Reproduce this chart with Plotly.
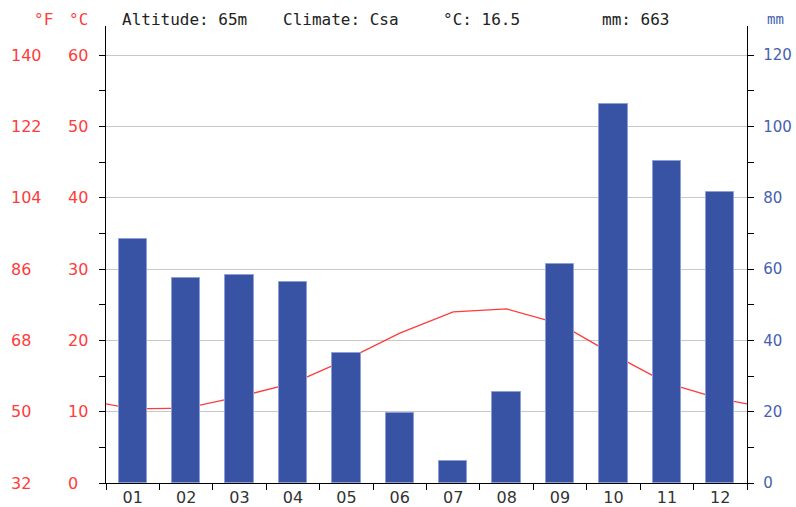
import plotly.graph_objects as go

months = ["01", "02", "03", "04", "05", "06", "07", "08", "09", "10", "11", "12"]
month_pos = list(range(1, 13))
precip_mm = [68.3, 57.4, 58.2, 56.4, 36.5, 19.5, 6.3, 25.4, 61.4, 106.3, 90.3, 81.6]
temp_c = [10.4, 10.5, 12.1, 14.0, 17.3, 21.0, 24.0, 24.4, 22.3, 18.0, 14.0, 11.8]
c_ticks = [0, 10, 20, 30, 40, 50, 60]
f_ticks = [32, 50, 68, 86, 104, 122, 140]
mm_ticks = [0, 20, 40, 60, 80, 100, 120]
header = [("Altitude: 65m", 120), ("Climate: Csa", 281), ("°C: 16.5", 441), ("mm: 663", 600)]

RED = "#ff3b3b"
BLUE = "#4561b0"
BAR = "#3953a4"

W, H = 796, 507
L, R, T, B = 106, 49, 26, 24
pw = W - L - R
ph = H - T - B

edge_val = (temp_c[0] + temp_c[-1]) / 2
line_x = [0.5] + month_pos + [12.5]
line_y = [edge_val] + temp_c + [edge_val]

fig = go.Figure()
fig.add_trace(go.Bar(
    x=month_pos, y=precip_mm, yaxis="y2", width=0.53,
    marker=dict(color=BAR, line=dict(color="#8c9fd6", width=1)),
    hoverinfo="skip",
))
fig.add_trace(go.Scatter(
    x=line_x, y=line_y, mode="lines", yaxis="y",
    line=dict(color=RED, width=1.3), hoverinfo="skip",
))

annotations = []
for c, f in zip(c_ticks, f_ticks):
    annotations.append(dict(x=(9 - L) / pw, xref="paper", y=c, yref="y", text=str(f),
                            showarrow=False, xanchor="left", yanchor="middle",
                            font=dict(family="DejaVu Sans", size=16, color=RED)))
    annotations.append(dict(x=(66 - L) / pw, xref="paper", y=c, yref="y", text=str(c),
                            showarrow=False, xanchor="left", yanchor="middle",
                            font=dict(family="DejaVu Sans", size=16, color=RED)))
ytop = 1 + (T - 19) / ph
annotations.append(dict(x=(43 - L) / pw, xref="paper", y=ytop, yref="paper", text="°F",
                        showarrow=False, xanchor="center", yanchor="middle",
                        font=dict(family="DejaVu Sans Mono", size=16, color=RED)))
annotations.append(dict(x=(78 - L) / pw, xref="paper", y=ytop, yref="paper", text="°C",
                        showarrow=False, xanchor="center", yanchor="middle",
                        font=dict(family="DejaVu Sans Mono", size=16, color=RED)))
annotations.append(dict(x=(775 - L) / pw, xref="paper", y=ytop, yref="paper", text="mm",
                        showarrow=False, xanchor="center", yanchor="middle",
                        font=dict(family="DejaVu Sans Mono", size=14, color=BLUE)))
for txt, xp in header:
    annotations.append(dict(x=(xp - L) / pw, xref="paper", y=ytop, yref="paper", text=txt,
                            showarrow=False, xanchor="left", yanchor="middle",
                            font=dict(family="DejaVu Sans Mono", size=16, color="#222222")))

fig.update_layout(
    width=W, height=H,
    margin=dict(l=L, r=R, t=T, b=B, pad=0, autoexpand=False),
    paper_bgcolor="white", plot_bgcolor="white",
    showlegend=False, bargap=0,
    annotations=annotations,
    xaxis=dict(
        range=[0.5, 12.5], tickvals=month_pos, ticktext=months, ticks="", automargin=False,
        showgrid=False, zeroline=False, showline=True, linecolor="black", linewidth=1.3,
        tickfont=dict(family="DejaVu Sans", size=16, color="#333333"),
        minor=dict(tick0=0.5, dtick=1, ticks="outside", ticklen=6, tickcolor="black", showgrid=False),
        fixedrange=True,
    ),
    yaxis=dict(
        range=[0, 64.07], tickvals=c_ticks, showticklabels=False, automargin=False,
        ticks="outside", ticklen=6, tickcolor="black",
        showgrid=True, gridcolor="#c8c8c8", gridwidth=1,
        zeroline=False, showline=True, linecolor="black", linewidth=1.3,
        minor=dict(tickvals=[5, 15, 25, 35, 45, 55], ticks="outside", ticklen=6, tickcolor="black", showgrid=False),
    ),
    yaxis2=dict(
        range=[0, 128.14], tickvals=mm_ticks, overlaying="y", side="right", automargin=False,
        ticks="outside", ticklen=6, tickcolor="black", ticklabelstandoff=6,
        showgrid=False, zeroline=False, showline=True, linecolor="black", linewidth=1.3,
        tickfont=dict(family="DejaVu Sans", size=15, color=BLUE),
        minor=dict(tickvals=[10, 30, 50, 70, 90, 110], ticks="outside", ticklen=6, tickcolor="black"),
    ),
)

fig.write_html("out.html", config={"displayModeBar": False},
               post_script="document.body.style.margin='0';document.body.style.overflow='hidden';")
